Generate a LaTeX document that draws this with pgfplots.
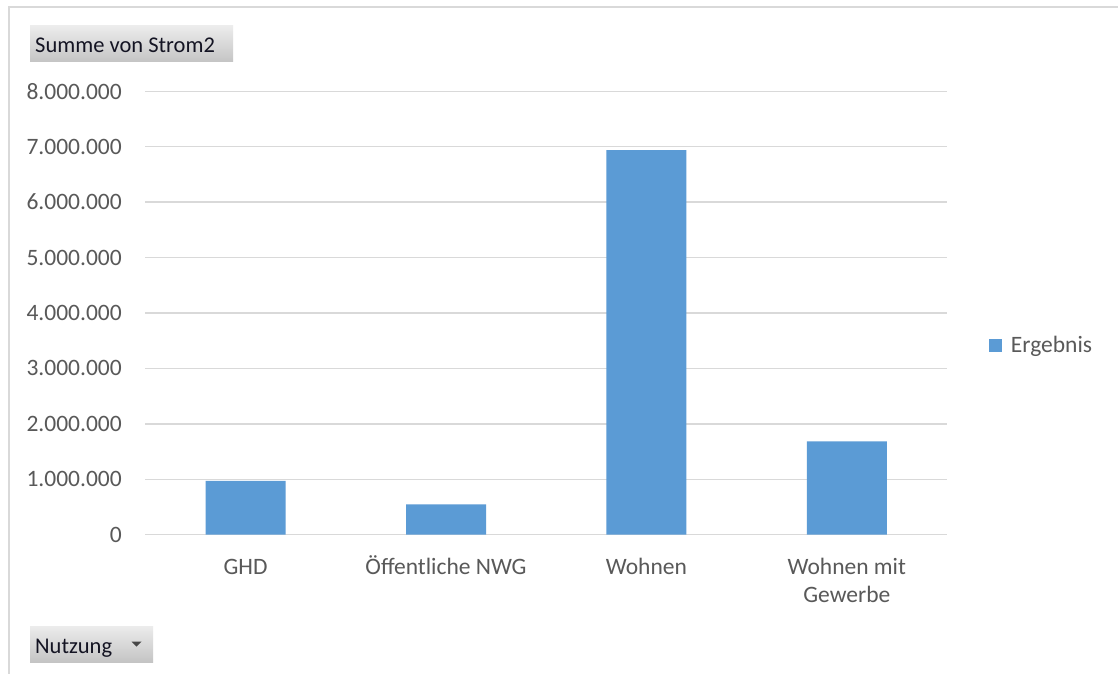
\documentclass[border=0pt]{standalone}
\usepackage{pgfplots}
\pgfplotsset{compat=1.18}
\usepackage{fontspec}
\setmainfont{Carlito}
\definecolor{barblue}{RGB}{91,155,213}
\definecolor{gridgray}{RGB}{217,217,217}
\definecolor{labgray}{RGB}{89,89,89}
\definecolor{btntop}{RGB}{236,236,236}
\definecolor{btnbot}{RGB}{196,196,196}
\definecolor{btntext}{RGB}{20,20,35}
\begin{document}
\begin{tikzpicture}[x=1pt,y=1pt]
\useasboundingbox (0,0) rectangle (1118,673);
\fill[white] (0,0) rectangle (1118,673);
% chart area border (left and top visible)
\draw[gridgray, line width=2pt] (9.3,-2) -- (9.3,665.7) -- (1120,665.7);
% field buttons
\shade[top color=btntop, bottom color=btnbot] (30,611) rectangle (233,647);
\node[anchor=base west, inner sep=0pt, text=btntext, font=\fontsize{22.5}{27}\selectfont] at (35,620) {Summe von Strom2};
\shade[top color=btntop, bottom color=btnbot] (30,11) rectangle (153,47);
\node[anchor=base west, inner sep=0pt, text=btntext, font=\fontsize{22.5}{27}\selectfont] at (35,20) {Nutzung};
\fill[labgray!80!black] (131.5,31.3) -- (141.5,31.3) -- (136.5,26.3) -- cycle;
\begin{axis}[
  at={(145.4pt,138.3pt)}, anchor=south west,
  scale only axis, width=801.6pt, height=443.4pt,
  xmin=-0.5, xmax=3.5, ymin=0, ymax=8000000,
  ybar, bar width=80pt,
  xtick={0,1,2,3},
  xticklabels={{\vphantom{Ö}GHD}, {Öffentliche NWG}, {\vphantom{Ö}Wohnen}, {\vphantom{Ö}Wohnen mit\\Gewerbe}},
  ytick={0,1000000,2000000,3000000,4000000,5000000,6000000,7000000,8000000},
  scaled y ticks=false,
  /pgf/number format/.cd, fixed, 1000 sep={.}, assume math mode=true, /pgfplots/.cd,
  axis lines*=left,
  y axis line style={draw=none},
  x axis line style={draw=gridgray, line width=1.5pt},
  major tick length=0pt,
  ymajorgrids, major grid style={draw=gridgray, line width=1.5pt},
  tick label style={font=\fontsize{23.5}{27.5}\selectfont, text=labgray},
  yticklabel style={inner sep=0pt, xshift=-23.4pt},
  xticklabel style={inner sep=0pt, align=center, anchor=north, yshift=-21pt},
  legend style={at={(rel axis cs:1.052,0.4267)}, anchor=west, draw=none, fill=none, inner sep=0pt,
    font=\fontsize{23.5}{29}\selectfont, text=labgray},
  legend image code/.code={\fill[barblue] (0pt,-6.5pt) rectangle (13pt,6.5pt);},
]
\addplot[fill=barblue, draw=none] coordinates {(0,970000) (1,548000) (2,6940000) (3,1685000)};
\addlegendentry{\hspace{7pt}Ergebnis}
\end{axis}
\end{tikzpicture}
\end{document}
